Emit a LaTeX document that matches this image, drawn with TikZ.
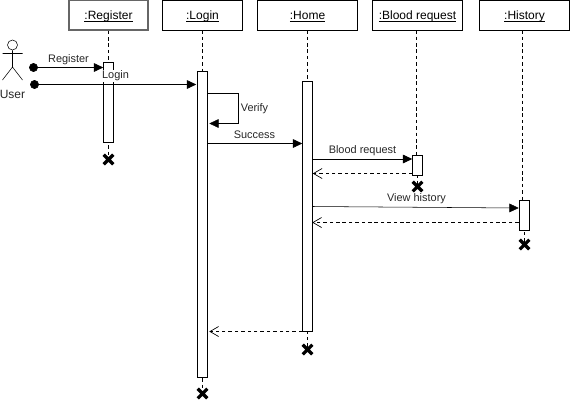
\documentclass[tikz,border=0pt]{standalone}
\usepackage{fontspec}
\setmainfont{Liberation Sans}
\usetikzlibrary{arrows.meta,calc}
\newcommand{\headtext}[1]{\smash{\raisebox{-3.2pt}{\underline{\smash{#1}}}}}
\tikzset{
  x=0.75pt,y=-0.75pt,
  line width=0.75pt,
  headbox/.style={draw,fill=white,minimum height=22.5pt,inner sep=0pt,font=\fontsize{9}{10}\selectfont},
  actbox/.style={draw,fill=white,minimum width=7.5pt,inner sep=0pt},
  lifeline/.style={dash pattern=on 2.6pt off 2.2pt},
  msg/.style={-{Triangle[length=7pt,width=6.5pt]}},
  ret/.style={dash pattern=on 2.6pt off 2.2pt,-{Straight Barb[length=6.5pt,width=7.5pt,line width=.5pt]}},
  lbl/.style={font=\fontsize{8.2}{9}\selectfont,inner sep=0.6pt,text=black!85},
  startdot/.style={circle,fill=black,draw,minimum size=6.2pt,inner sep=0pt},
}
\newcommand{\killmark}[1]{\draw[line width=2.4pt] ($(#1)+(-4.8,-4.8)$)--($(#1)+(4.8,4.8)$) ($(#1)+(-4.8,4.8)$)--($(#1)+(4.8,-4.8)$);}
\begin{document}
\begin{tikzpicture}
\useasboundingbox (0,0) rectangle (570,400);
% heads
\node[headbox,minimum width=59.25pt,draw=black!60,line width=1pt] (reg) at (108.5,15) {\headtext{:Register}};
\node[headbox,minimum width=60pt] (log) at (202.5,15) {\headtext{:Login}};
\node[headbox,minimum width=75pt] (hom) at (307.5,15) {\headtext{:Home}};
\node[headbox,minimum width=67.5pt] (blo) at (417.5,15) {\headtext{:Blood request}};
\node[headbox,minimum width=67.5pt] (his) at (524.5,15) {\headtext{:History}};
% kill marks and life lines
\coordinate (xreg) at (108.5,159.5);
\coordinate (xlog) at (202.5,393.5);
\coordinate (xhom) at (307.5,349.5);
\coordinate (xblo) at (417.5,186.5);
\coordinate (xhis) at (524.5,244.5);
\coordinate (treg) at (108.5,62);
\coordinate (tlog) at (202.5,71);
\coordinate (thom) at (307.5,81);
\coordinate (tblo) at (416.5,155);
\coordinate (this) at (522.5,200);
\draw[lifeline] (reg.south) -- (treg);
\draw[lifeline] (log.south) -- (tlog);
\draw[lifeline] (hom.south) -- (thom);
\draw[lifeline] (blo.south -| tblo) -- (tblo);
\draw[lifeline] (his.south -| this) -- (this);
\draw[lifeline] (treg) -- (xreg);
\draw[lifeline] (tlog) -- (xlog);
\draw[lifeline] (thom) -- (xhom);
\draw[lifeline] (xblo |- tblo) -- (xblo);
\draw[lifeline] (xhis |- this) -- (xhis);
% activations
\node[actbox,minimum height=60pt] (areg) at (108.5,102.5) {};
\node[actbox,minimum height=229.5pt] (alog) at (202.5,224) {};
\node[actbox,minimum height=187.5pt] (ahom) at (307.5,206) {};
\node[actbox,minimum height=15pt] (ablo) at (417.5,165.5) {};
\node[actbox,minimum height=22.5pt] (ahis) at (524,215) {};
\killmark{xreg}\killmark{xlog}\killmark{xhom}\killmark{xblo}\killmark{xhis}
% actor
\node[circle,draw,minimum size=7.5pt,inner sep=0pt] (head) at (12.5,45) {};
\coordinate (hip) at (12.5,67);
\coordinate (armL) at (2.5,53.5);
\coordinate (armR) at (22.5,53.5);
\coordinate (legL) at (2.5,80);
\coordinate (legR) at (22.5,80);
\draw (head.south) -- (hip) (armL) -- (armR) (legL) -- (hip) -- (legR);
\node[font=\fontsize{9}{10}\selectfont,text=black!85,inner sep=0pt] (user) at (12.5,94) {User};
% messages
\node[startdot] (d1) at (33.5,67.5) {};
\node[startdot] (d2) at (34.5,84.5) {};
\draw[msg] (d1) -- (d1 -| areg.west);
\node[lbl] (l1) at (68.5,59.5) {Register};
\draw[msg] (d2) -- ($(d2 -| alog.west)+(-1,0)$);
\node[lbl,fill=white] (l2) at (115.5,76) {Login};
% verify
\coordinate (v1) at (238,93.5);
\coordinate (v2) at (238,123.5);
\draw[msg] (v1 -| alog.east) -- (v1) -- (v2) -- ($(v2 -| alog.east)+(1.5,0)$);
\node[lbl] (l3) at (254.5,108.5) {Verify};
% success
\coordinate (s) at (0,143.5);
\draw[msg] (s -| alog.east) -- (s -| ahom.west);
\node[lbl] (l4) at (254.5,134.5) {Success};
% blood request
\coordinate (b1) at (0,159);
\coordinate (b2) at (0,173.5);
\draw[msg] (b1 -| ahom.east) -- (b1 -| ablo.west);
\node[lbl] (l5) at (362.5,150.5) {Blood request};
\draw[ret] (b2 -| ablo.west) -- (b2 -| ahom.east);
% history
\coordinate (h1) at (0,206.5);
\coordinate (h2) at (0,208);
\coordinate (h3) at (0,222.5);
\draw[msg] (h1 -| ahom.east) -- (h2 -| ahis.west);
\node[lbl] (l6) at (416.5,199) {View history};
\draw[ret] (h3 -| ahis.west) -- ($(h3 -| ahom.east)+(-0.5,0)$);
% home return
\coordinate (r) at (0,331.5);
\draw[ret] (r -| ahom.west) -- ($(r -| alog.east)+(1.5,0)$);
\end{tikzpicture}
\end{document}
